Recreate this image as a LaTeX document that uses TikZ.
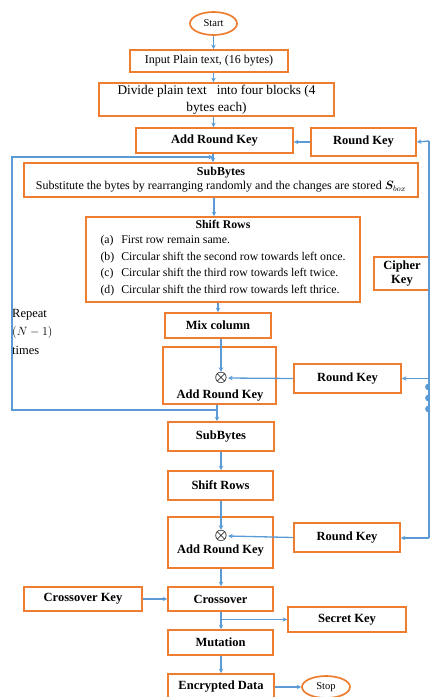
\documentclass[tikz,border=0pt]{standalone}
\usepackage{fontspec}
\setmainfont{Liberation Serif}
\usepackage{bm}
\usetikzlibrary{shapes.geometric,arrows.meta}
\definecolor{boxorange}{RGB}{237,125,49}
\definecolor{lineblue}{RGB}{91,155,213}

\begin{document}
\begin{tikzpicture}[x=1pt,y=-1pt]
	\useasboundingbox (0,0) rectangle (430,697);
	
	\begin{scope}[every node/.style={draw=boxorange,line width=1.7pt,fill=white,inner sep=0pt,align=center,font=\fontsize{12.5}{14}\selectfont\bfseries}]
		\node[ellipse,minimum width=47pt,minimum height=23pt,font=\fontsize{10.5}{11}\selectfont] (start) at (213.5,23.5) {Start};
		\node[minimum width=158pt,minimum height=22pt,font=\fontsize{12}{14}\selectfont] (input) at (209,61) {Input Plain text, (16 bytes)};
		\node[minimum width=235pt,minimum height=33pt,font=\fontsize{13.3}{17}\selectfont] (divide) at (216.5,99.5) {Divide plain text \ \ into four blocks (4\\bytes each)};
		\node[minimum width=157pt,minimum height=25pt] (ark1) at (214.5,140.5) {Add Round Key};
		\node[minimum width=105pt,minimum height=28pt] (rk1) at (363.5,142) {Round Key};
		\node[minimum width=394pt,minimum height=34pt,font=\fontsize{12}{14}\selectfont] (sub1) at (221,180) {\textbf{SubBytes}\\Substitute the bytes by rearranging randomly and the changes are stored $\bm{S}_{box}$};
		\node[minimum width=274pt,minimum height=85pt,font=\fontsize{11.8}{16.8}\selectfont] (shift1) at (223,259.5) {\textbf{Shift Rows}\\[2pt]
			\begin{tabular}{@{}l@{\hspace{7pt}}l@{}}
				(a) & First row remain same.\\
				(b) & Circular shift the second row towards left once.\\
				(c) & Circular shift the third row towards left twice.\\
				(d) & Circular shift the third row towards left thrice.
			\end{tabular}};
		\node[minimum width=56pt,minimum height=33pt,font=\fontsize{12.5}{14}\selectfont\bfseries] (cipher) at (402,273.5) {Cipher\\Key};
		\node[minimum width=106pt,minimum height=25pt] (mix) at (218,325.5) {Mix column};
		\node[minimum width=113pt,minimum height=57pt] (ark2) at (219.5,375.5) {};
		\node[minimum width=107pt,minimum height=29pt] (rk2) at (347.5,378.5) {Round Key};
		\node[minimum width=106pt,minimum height=29pt] (sub2) at (221,436.5) {SubBytes};
		\node[minimum width=105pt,minimum height=29pt] (shift2) at (220.5,485.5) {Shift Rows};
		\node[minimum width=105pt,minimum height=51pt] (ark3) at (220.5,542.5) {};
		\node[minimum width=106pt,minimum height=29pt] (rk3) at (347,537.5) {Round Key};
		\node[minimum width=118pt,minimum height=24pt] (cokey) at (83,599) {Crossover Key};
		\node[minimum width=105pt,minimum height=24pt] (cross) at (220.5,599) {Crossover};
		\node[minimum width=118pt,minimum height=25pt] (secret) at (347,619.5) {Secret Key};
		\node[minimum width=105pt,minimum height=25pt] (mut) at (220.5,642.5) {Mutation};
		\node[minimum width=106pt,minimum height=26pt] (enc) at (221,687) {Encrypted Data};
		\node[ellipse,minimum width=48pt,minimum height=22pt,font=\fontsize{10.5}{11}\selectfont] (stop) at (326,687) {Stop};
	\end{scope}
	
	\begin{scope}[every node/.style={inner sep=0.5pt,font=\fontsize{12.5}{14}\selectfont\bfseries}]
		\node[font=\fontsize{14}{16}\selectfont] (ox2) at (221,378) {$\bm{\otimes}$};
		\node (ark2txt) at (220,396) {Add Round Key};
		\node[font=\fontsize{14}{16}\selectfont] (ox3) at (221,536) {$\bm{\otimes}$};
		\node (ark3txt) at (220.5,551) {Add Round Key};
		\node[anchor=north west,inner sep=0pt,align=left,font=\fontsize{12.5}{18.5}\selectfont] (repeat) at (12,309) {Repeat\\$(N-1)$\\times};
	\end{scope}
	
	% side connections
	\coordinate (rtop) at (429,141);
	\coordinate (rbot) at (429,538);
	\coordinate (loopin) at (217,410);
	\coordinate (loopout) at (213,157);
	
	\begin{scope}[every path/.style={draw=lineblue,line width=1.3pt},>={Stealth[length=4.5pt,width=4.5pt]}]
		\draw [->] (start.south) -- (start.south |- input.north);
		\draw [->] (input.south -| start) -- (start |- divide.north);
		\draw [->] (divide.south -| start) -- (start |- ark1.north);
		\draw [->] (ark1.south -| loopout) -- (loopout |- sub1.north);
		\draw [->] (rk1.west) -- (rk1.west -| ark1.east);
		\draw (rtop) -- (rbot);
		\draw [->] (rtop) -- (rk1.east);
		\draw [->] (rk2.east -| rtop) -- (rk2.east);
		\draw [->] (rbot) -- (rbot -| rk3.east);
		\draw [->] (sub1.south -| 214,0) -- (214,0 |- shift1.north);
		\draw [->] (shift1.south -| mix) -- (mix.north);
		\draw [->] (mix.south -| ox2) -- (ox2.north);
		\draw [->] (rk2.west) -- (ox2.east);
		\draw [->] (ark2.south -| loopin) -- (loopin |- sub2.north);
		\draw [->] (loopin) -- ++(-205,0) |- (loopout);
		\draw [->] (sub2.south -| ox3) -- (ox3 |- shift2.north);
		\draw [->] (shift2.south -| ox3) -- (ox3.north);
		\draw [->] (rk3.west) -- (ox3.east);
		\draw [->] (ark3.south -| ox3) -- (ox3 |- cross.north);
		\draw [->] (cokey.east) -- (cross.west);
		\draw [->] (cross.south -| ox3) -- (ox3 |- mut.north);
		\draw [->] (ox3 |- secret.west) -- (secret.west);
		\draw [->] (mut.south -| ox3) -- (ox3 |- enc.north);
		\draw [->] (enc.east) -- (stop.west);
	\end{scope}
	
	\foreach \dy in {387,398,409}
		\fill[lineblue] (428.5,\dy) circle (3.4pt);
\end{tikzpicture}
\end{document}
